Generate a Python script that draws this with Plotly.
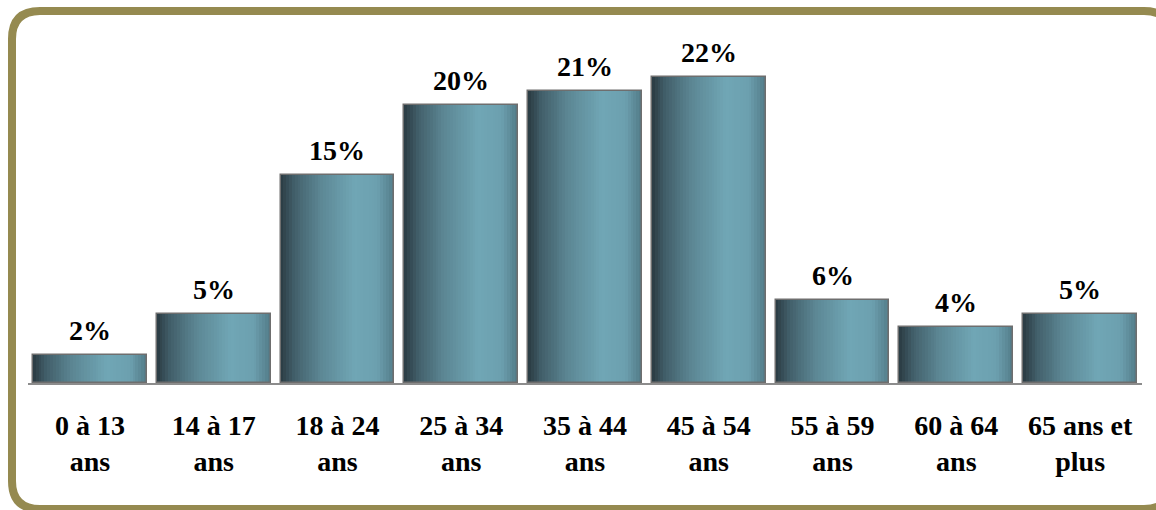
import plotly.graph_objects as go

categories = ["0 à 13<br>ans", "14 à 17<br>ans", "18 à 24<br>ans", "25 à 34<br>ans",
              "35 à 44<br>ans", "45 à 54<br>ans", "55 à 59<br>ans", "60 à 64<br>ans",
              "65 ans et<br>plus"]
values = [2, 5, 15, 20, 21, 22, 6, 4, 5]
value_labels = ["2%", "5%", "15%", "20%", "21%", "22%", "6%", "4%", "5%"]

W_FIG, H_FIG = 1156, 510
M_L, M_R, M_T, M_B = 28, 14, 36, 127
PW = W_FIG - M_L - M_R
PH = H_FIG - M_T - M_B

xs = list(range(len(values)))
BAR_W = 0.92
N = 40

stops = [(0.0, (42, 58, 66)), (0.12, (66, 95, 106)), (0.35, (92, 135, 148)),
         (0.65, (112, 166, 181)), (0.85, (108, 160, 175)), (1.0, (82, 122, 135))]

def col(t):
    for (t0, c0), (t1, c1) in zip(stops[:-1], stops[1:]):
        if t0 <= t <= t1:
            f = (t - t0) / (t1 - t0)
            return "rgb(%d,%d,%d)" % tuple(round(a + (b - a) * f) for a, b in zip(c0, c1))
    return "rgb(%d,%d,%d)" % stops[-1][1]

fig = go.Figure()
sw = BAR_W / N
for i in range(N):
    w = sw * 1.6 if i < N - 1 else sw
    fig.add_trace(go.Bar(
        x=xs, y=values, width=w, offset=-BAR_W / 2 + i * sw,
        marker=dict(color=col((i + 0.5) / N), line=dict(width=0)),
        hoverinfo="skip", showlegend=False))
fig.add_trace(go.Bar(
    x=xs, y=values, width=BAR_W, offset=-BAR_W / 2,
    marker=dict(color="rgba(0,0,0,0)", line=dict(color="#6e6e6e", width=1.5)),
    hoverinfo="skip", showlegend=False))

for x, v, t in zip(xs, values, value_labels):
    fig.add_annotation(x=x, y=v, text=t, showarrow=False, yanchor="bottom", yshift=7,
                       font=dict(family="Liberation Serif", size=28, color="black", weight="bold"))

def px(x):
    return (x - M_L) / PW

def py(y):
    return (H_FIG - M_B - y) / PH

l, t, r, b, rad = 12, 11, 1172, 509, 28
path = (f"M {px(l+rad)},{py(t)} L {px(r-rad)},{py(t)} Q {px(r)},{py(t)} {px(r)},{py(t+rad)} "
        f"L {px(r)},{py(b-rad)} Q {px(r)},{py(b)} {px(r-rad)},{py(b)} "
        f"L {px(l+rad)},{py(b)} Q {px(l)},{py(b)} {px(l)},{py(b-rad)} "
        f"L {px(l)},{py(t+rad)} Q {px(l)},{py(t)} {px(l+rad)},{py(t)} Z")
fig.add_shape(type="path", path=path, xref="paper", yref="paper",
              line=dict(color="#958a50", width=8), fillcolor="rgba(0,0,0,0)", layer="above")

fig.update_layout(
    width=W_FIG, height=H_FIG, barmode="overlay",
    margin=dict(l=M_L, r=M_R, t=M_T, b=M_B),
    paper_bgcolor="white", plot_bgcolor="white",
    xaxis=dict(range=[-0.5, len(values) - 0.5], tickvals=xs, ticktext=categories,
               showgrid=False, zeroline=False, showline=True, linecolor="#8c8c8c", linewidth=2,
               ticks="", ticklabelstandoff=16,
               tickfont=dict(family="Liberation Serif", size=28, color="black", weight="bold"),
               fixedrange=True),
    yaxis=dict(range=[0, PH / 13.9], visible=False, fixedrange=True),
    bargap=0,
)

fig.write_html("out.html", config={"displayModeBar": False})
